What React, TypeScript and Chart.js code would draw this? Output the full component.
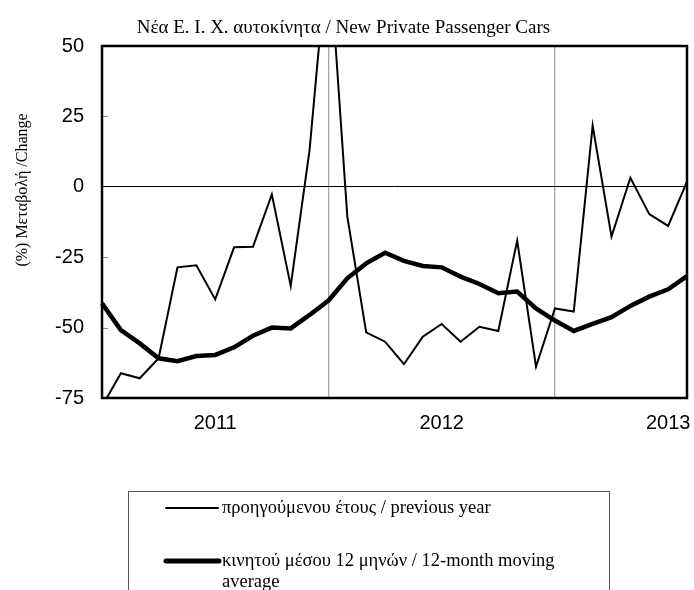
import React, { useEffect, useRef } from 'react';
import { Chart, registerables } from 'chart.js';

Chart.register(...registerables);

const titleText = 'Νέα Ε. Ι. Χ. αυτοκίνητα / New Private Passenger Cars';
const yAxisTitle = '(%) Μεταβολή /Change';

const months = [
  '2010-07', '2010-08', '2010-09', '2010-10', '2010-11', '2010-12',
  '2011-01', '2011-02', '2011-03', '2011-04', '2011-05', '2011-06',
  '2011-07', '2011-08', '2011-09', '2011-10', '2011-11', '2011-12',
  '2012-01', '2012-02', '2012-03', '2012-04', '2012-05', '2012-06',
  '2012-07', '2012-08', '2012-09', '2012-10', '2012-11', '2012-12',
  '2013-01', '2013-02',
];

const yearTickLabels = ['2011', '2012', '2013'];
const yTicks = [-75, -50, -25, 0, 25, 50];

const previousYear = [
  -78, -66.2, -68.0, -60.9, -28.6, -27.9,
  -40.0, -21.5, -21.3, -2.7, -35.2, 13.1,
  87, -10.6, -51.7, -55.0, -63.0, -53.2,
  -48.7, -55.0, -49.7, -51.2, -19.1, -63.9,
  -43.2, -44.3, 21.7, -17.7, 3.2, -9.7,
  -13.9, 1.8,
];

const movingAverage = [
  -41.4, -50.9, -55.6, -60.9, -61.9, -60.1,
  -59.7, -57.0, -52.9, -50.0, -50.3, -45.5,
  -40.4, -32.5, -27.2, -23.4, -26.3, -28.1,
  -28.6, -31.9, -34.5, -37.8, -37.2, -43.2,
  -47.5, -51.2, -48.7, -46.3, -42.3, -39.0,
  -36.4, -31.7,
];

const seriesLabels = [
  'προηγούμενου έτους / previous year',
  'κινητού μέσου 12 μηνών / 12-month moving average',
];

const gridMonths = ['2011-07', '2012-07'];

const SERIF = '"Liberation Serif", "Times New Roman", serif';
const SANS = '"Liberation Sans", Arial, sans-serif';

function wrapText(ctx: CanvasRenderingContext2D, text: string, maxWidth: number): string[] {
  const words = text.split(' ');
  const lines: string[] = [];
  let cur = '';
  for (const w of words) {
    const test = cur ? cur + ' ' + w : w;
    if (ctx.measureText(test).width > maxWidth && cur) {
      lines.push(cur);
      cur = w;
    } else {
      cur = test;
    }
  }
  if (cur) lines.push(cur);
  return lines;
}

export default function App() {
  const ref = useRef<HTMLCanvasElement>(null);

  useEffect(() => {
    const canvas = ref.current;
    if (!canvas) return;

    const framePlugin = {
      id: 'frameAndLegend',
      afterDraw(chart: any) {
        const { ctx, chartArea } = chart;
        const { left, top, right, bottom } = chartArea;
        const y = chart.scales.y;
        ctx.save();
        // inner tick marks
        ctx.strokeStyle = '#8c8c8c';
        ctx.lineWidth = 1;
        for (const v of yTicks) {
          if (v === 0 || v === y.min || v === y.max) continue;
          const py = Math.round(y.getPixelForValue(v)) + 0.5;
          ctx.beginPath();
          ctx.moveTo(left, py);
          ctx.lineTo(left + 6, py);
          ctx.stroke();
        }
        // frame
        ctx.strokeStyle = '#000';
        ctx.lineWidth = 2.5;
        ctx.strokeRect(left, top, right - left, bottom - top);

        // y axis title
        ctx.save();
        ctx.translate(23, 190);
        ctx.rotate(-Math.PI / 2);
        ctx.font = '16px ' + SERIF;
        ctx.fillStyle = '#000';
        ctx.textAlign = 'center';
        ctx.textBaseline = 'middle';
        ctx.fillText(yAxisTitle, 0, 0);
        ctx.restore();

        // legend box
        ctx.strokeStyle = '#595959';
        ctx.lineWidth = 1;
        ctx.strokeRect(128.5, 491.5, 609 - 128, 120);

        const rows = [
          { y: 508, width: 2, x0: 166, x1: 218 },
          { y: 561, width: 5, x0: 166, x1: 219 },
        ];
        ctx.font = '18.5px ' + SERIF;
        ctx.fillStyle = '#000';
        ctx.textBaseline = 'middle';
        ctx.textAlign = 'left';
        chart.data.datasets.forEach((ds: any, i: number) => {
          const r = rows[i];
          ctx.strokeStyle = '#000';
          ctx.lineWidth = r.width;
          ctx.lineCap = 'round';
          ctx.beginPath();
          ctx.moveTo(r.x0, r.y);
          ctx.lineTo(r.x1, r.y);
          ctx.stroke();
          const lines = wrapText(ctx, ds.label, 370);
          lines.forEach((ln, j) => {
            ctx.fillText(ln, 222, r.y + j * 21);
          });
        });
        ctx.restore();
      },
    };

    const chart = new Chart(canvas, {
      type: 'line',
      data: {
        labels: months,
        datasets: [
          {
            label: seriesLabels[0],
            data: previousYear,
            borderColor: '#000',
            borderWidth: 2,
            pointRadius: 0,
            tension: 0,
            fill: false,
          },
          {
            label: seriesLabels[1],
            data: movingAverage,
            borderColor: '#000',
            borderWidth: 4.5,
            pointRadius: 0,
            tension: 0,
            fill: false,
          },
        ],
      },
      options: {
        responsive: false,
        animation: false,
        events: [],
        layout: { padding: { left: 0, right: 7, top: 0, bottom: 0 } },
        plugins: {
          legend: { display: false },
          tooltip: { enabled: false },
          title: {
            display: true,
            text: titleText,
            color: '#000',
            font: { family: SERIF, size: 19, weight: 'normal' },
            padding: { top: 16.6, bottom: 6.6 },
          },
        },
        scales: {
          x: {
            type: 'category',
            offset: false,
            afterFit: (s: any) => { s.height = 192; },
            border: { display: false },
            grid: {
              drawTicks: true,
              tickLength: 13,
              tickColor: 'rgba(0,0,0,0)',
              lineWidth: 1.3,
              color: (c: any) => {
                const lbl = months[c.index];
                return gridMonths.includes(lbl) ? '#a6a6a6' : 'rgba(0,0,0,0)';
              },
            },
            ticks: {
              autoSkip: false,
              maxRotation: 0,
              minRotation: 0,
              padding: 0,
              color: '#000',
              font: { family: SANS, size: 20 },
              callback: (_v: any, i: number) => {
                const m = months[i];
                if (m && m.endsWith('-01')) {
                  const yr = m.slice(0, 4);
                  return yearTickLabels.includes(yr) ? yr : '';
                }
                return '';
              },
            },
          },
          y: {
            min: -75,
            max: 50,
            afterFit: (s: any) => { s.width = 102; },
            afterBuildTicks: (s: any) => { s.ticks = yTicks.map((v) => ({ value: v })); },
            border: { display: false },
            grid: {
              drawTicks: false,
              lineWidth: 1,
              color: (c: any) => (c.tick && c.tick.value === 0 ? '#000' : 'rgba(0,0,0,0)'),
            },
            ticks: {
              padding: 18,
              color: '#000',
              font: { family: SANS, size: 20 },
            },
          },
        },
      },
      plugins: [framePlugin],
    });

    return () => chart.destroy();
  }, []);

  return (
    <div style={{ position: 'absolute', left: 0, top: 0, width: 694, height: 590, background: '#fff' }}>
      <canvas ref={ref} width={694} height={590} style={{ display: 'block' }} />
    </div>
  );
}
